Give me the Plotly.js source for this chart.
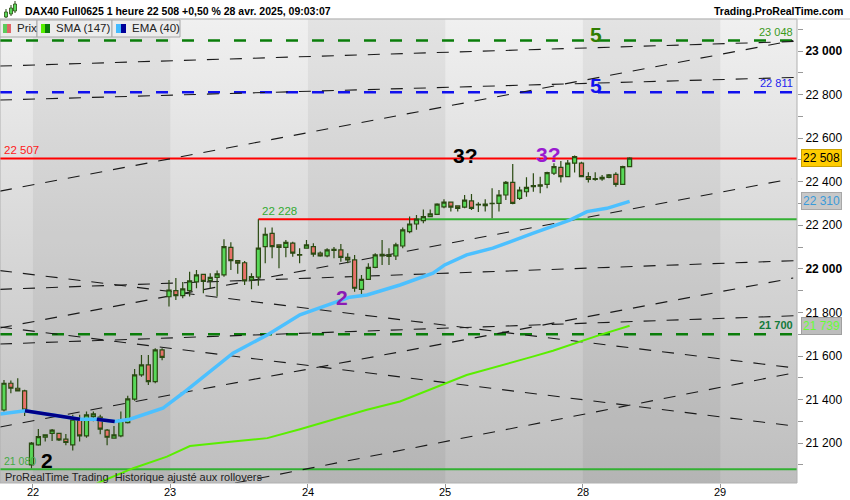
<!DOCTYPE html>
<html>
<head>
<meta charset="utf-8">
<script src="https://cdn.plot.ly/plotly-3.0.1.min.js"></script>
<style>
  html, body { margin: 0; padding: 0; background: #fff; }
  #chart { width: 850px; height: 500px; }
</style>
</head>
<body>
<div id="chart"></div>
<script>
// DAX40 Full0625, 1 hour bars (index 0 = last bars of 17 Apr, day 22 starts at bar 4)
const open  = [21352,21475,21452,21440,21100,21192,21227,21245,21245,21218,21192,21310,21233,21322,21319,21260,21223,21233,21294,21402,21513,21559,21482,21628,
               21872,21900,21877,21900,21940,21975,21946,21961,21972,22099,22038,22028,21949,21962,22102,22163,22110,22099,22118,22066,
               22095,22102,22072,22060,22085,22087,22053,22041,21906,21952,22007,22067,22064,22059,22105,22171,22206,22221,22240,22250,
               22285,22306,22289,22283,22312,22296,22290,22299,22301,22339,22397,22324,22354,22377,22386,22388,22439,22466,22423,22485,
               22485,22423,22414,22420,22420,22434,22388,22469];
const high  = [21490,21487,21498,21445,21205,21265,21238,21265,21248,21242,21330,21330,21345,21345,21330,21265,21279,21345,21417,21540,21605,21605,21636,21636,
               21949,21958,21940,21987,21995,21977,21980,21992,22136,22122,22038,22036,21980,22228,22190,22190,22110,22133,22125,22095,
               22133,22118,22080,22095,22100,22114,22072,22064,21972,22026,22072,22133,22095,22120,22190,22240,22247,22273,22273,22301,
               22320,22306,22289,22339,22344,22306,22320,22370,22362,22403,22481,22377,22420,22439,22423,22446,22485,22495,22500,22520,
               22492,22443,22443,22431,22436,22443,22473,22512];
const low   = [21345,21429,21440,21325,21085,21188,21207,21210,21210,21190,21166,21207,21225,21300,21241,21190,21220,21227,21290,21395,21505,21467,21475,21580,
               21827,21857,21865,21873,21911,21888,21910,21873,21964,21995,21977,21926,21906,21922,22026,22049,22003,22053,22056,22026,
               22095,22056,22056,22053,22049,22033,22026,21895,21880,21949,22003,22018,22018,22041,22095,22163,22179,22209,22240,22247,
               22278,22263,22263,22278,22270,22261,22263,22232,22263,22316,22297,22316,22331,22354,22347,22370,22431,22396,22420,22442,
               22420,22396,22405,22405,22416,22377,22385,22466];
const close = [21475,21452,21440,21352,21200,21230,21238,21260,21215,21203,21310,21233,21330,21334,21264,21227,21238,21307,21403,21513,21559,21482,21628,21594,
               21903,21877,21908,21945,21972,21943,21961,21977,22102,22038,22026,21945,21964,22095,22159,22102,22099,22122,22072,22063,
               22110,22068,22060,22087,22090,22053,22041,21911,21952,22007,22064,22059,22057,22110,22179,22206,22228,22240,22252,22297,
               22306,22283,22278,22316,22278,22294,22297,22301,22339,22397,22301,22362,22374,22382,22380,22442,22469,22423,22485,22515,
               22423,22411,22411,22413,22431,22388,22469,22508];

// EMA (40) and SMA (147), read at bar positions
const emaX = [-0.58,3.05,11.05,13.5,16.1,18.3,23.1,26,33.3,35.8,38.3,43.05,47.9,50.3,52.8,57.6,62.4,64.1,67.3,71.1,76.9,82.3,84.8,87.7,91];
const emaY = [21334,21349,21310,21310,21299,21310,21360,21429,21613,21655,21697,21789,21842,21870,21880,21926,21980,22018,22064,22095,22163,22224,22263,22278,22310];
const emaDownRuns = [[1, 2], [3, 4]];
const smaX = [13.5,18.8,23.7,27.05,33.3,38.3,43.05,47.9,52.8,57.6,67.3,76.9,79.85,86.7,91];
const smaY = [21015,21085,21138,21187,21207,21223,21264,21307,21353,21391,21513,21597,21624,21697,21739];

// day separators (bar index) and labels
const dayTicks  = [4.2, 24.2, 44.2, 64.2, 84.2, 104.2];
const dayLabels = ['22', '23', '24', '25', '28', '29'];

// price axis
const yTickVals = [21100,21200,21300,21400,21500,21600,21700,21800,21900,22000,22100,22200,22300,22400,22500,22600,22700,22800,22900,23000,23100];
const yTickText = ['','21 200','','21 400','','21 600','','21 800','','<b>22 000</b>','','22 200','','22 400','','22 600','','22 800','','<b>23 000</b>',''];

// black dashed trend lines
const trendX0 = [-0.58,-0.58,-0.58,-0.58,-0.58,-0.58,-0.58,33.6,-0.58,-0.58];
const trendP0 = [22931,22357,22775,21729,21992,21274,21733,21017,21906,21655];
const trendX1 = [115.3,114.8,115.3,114.5,115.3,114.8,115.3,114.8,115.3,115.3];
const trendP1 = [23044,23048,22879,22413,21544,21958,21277,21522,22038,21785];

// horizontal levels
const targetGreen = 23048, targetBlue = 22811, resistance = 22507, support = 21700, lowLevel = 21080;
const breakLevel = 22228, breakFrom = 37, breakTo = 60;

const X_RANGE = [-0.58, 115.35], Y_RANGE = [21017, 23147];
const PX = 797, TOP = 19, BOT = 483;
const px2x = p => p / PX;
const py2y = p => (BOT - p) / (BOT - TOP);
const fmt = v => String(v).replace(/\B(?=(\d{3})+(?!\d))/g, ' ');
const FONT = 'Liberation Sans, Arial, sans-serif';

const bars = open.map((_, i) => i);
const last = bars.length - 1;

const navyX = [], navyY = [];
emaDownRuns.forEach(([a, b]) => {
    for (let k = a; k <= b; k++) { navyX.push(emaX[k]); navyY.push(emaY[k]); }
    navyX.push(null); navyY.push(null);
});

const traces = [
    {
        type: 'candlestick', x: bars, open: open, high: high, low: low, close: close,
        increasing: { line: { color: '#2a4a12', width: 1.2 }, fillcolor: '#58d858' },
        decreasing: { line: { color: '#2a4a12', width: 1.2 }, fillcolor: '#e8726a' },
        whiskerwidth: 0, hoverinfo: 'skip'
    },
    { x: smaX, y: smaY, type: 'scatter', mode: 'lines', line: { color: '#5aee00', width: 2 }, hoverinfo: 'skip' },
    { x: emaX, y: emaY, type: 'scatter', mode: 'lines', line: { color: '#4cc0ff', width: 3.5 }, hoverinfo: 'skip' },
    { x: navyX, y: navyY, type: 'scatter', mode: 'lines', line: { color: '#000088', width: 3.5 }, hoverinfo: 'skip', connectgaps: false }
];

const shapes = [];
// alternate day shading
for (let k = 0; k + 1 < dayTicks.length; k += 2) {
    shapes.push({ type: 'rect', layer: 'below', xref: 'x', yref: 'paper', x0: dayTicks[k], x1: dayTicks[k + 1], y0: 0, y1: 1,
        fillcolor: 'rgba(0,0,0,0.05)', line: { width: 0 } });
}
// trend lines
trendX0.forEach((x0, k) => {
    shapes.push({ type: 'line', layer: 'below', xref: 'x', yref: 'y', x0: x0, y0: trendP0[k], x1: trendX1[k], y1: trendP1[k],
        line: { color: '#1a1a1a', width: 1.1, dash: '12px,11px' } });
});
const hline = (y, color, width, dash) => ({ type: 'line', layer: 'below', xref: 'paper', yref: 'y', x0: 0, x1: 1, y0: y, y1: y,
    line: { color: color, width: width, dash: dash || 'solid' } });
shapes.push(hline(targetGreen, '#0a7d0a', 2.5, '12px,14px'));
shapes.push(hline(targetBlue, '#1010ee', 2.5, '12px,14px'));
shapes.push(hline(support, '#0a7d0a', 2.5, '12px,14px'));
shapes.push(hline(resistance, '#ff0000', 2));
shapes.push(hline(lowLevel, '#33b033', 2));
shapes.push({ type: 'line', layer: 'below', xref: 'x', yref: 'y', x0: breakFrom, x1: breakTo, y0: breakLevel, y1: breakLevel, line: { color: '#ff0000', width: 2 } });
shapes.push({ type: 'line', layer: 'below', xref: 'x', yref: 'y', x0: breakTo, x1: X_RANGE[1], y0: breakLevel, y1: breakLevel, line: { color: '#33b033', width: 2 } });
// frame
shapes.push({ type: 'rect', layer: 'above', xref: 'paper', yref: 'paper', x0: 0, x1: 1, y0: 0, y1: 1, line: { color: '#b0b0b0', width: 1 } });
shapes.push({ type: 'line', layer: 'above', xref: 'paper', yref: 'paper', x0: 0, x1: 850 / PX, y0: py2y(TOP), y1: py2y(TOP), line: { color: '#c8c8c8', width: 1 } });

// legend boxes
const boxes = [[0, 37], [37, 112], [112, 180]];
boxes.forEach(([a, b]) => shapes.push({ type: 'rect', layer: 'above', xref: 'paper', yref: 'paper',
    x0: px2x(a), x1: px2x(b), y0: py2y(37), y1: py2y(20), fillcolor: '#ececec', line: { color: '#a8a8a8', width: 1 } }));
const swatches = [[3, 7, '#5ccc5c'], [7, 11, '#e06666'], [41, 45, '#55ee00'], [45, 50, '#0a7a0a'], [116, 121, '#44bbff'], [121, 126, '#000099']];
swatches.forEach(([a, b, c]) => shapes.push({ type: 'rect', layer: 'above', xref: 'paper', yref: 'paper',
    x0: px2x(a), x1: px2x(b), y0: py2y(33), y1: py2y(24), fillcolor: c, line: { width: 0 } }));

// header icon (three little candles)
const icon = [[6, 12, 17, 9, 18], [11, 8, 14, 5, 16], [15, 4, 11, 1, 13]];
icon.forEach(([cx, t, b, wt, wb]) => {
    shapes.push({ type: 'line', layer: 'above', xref: 'paper', yref: 'paper', x0: px2x(cx), x1: px2x(cx), y0: py2y(wb), y1: py2y(wt), line: { color: '#2a4a12', width: 1 } });
    shapes.push({ type: 'rect', layer: 'above', xref: 'paper', yref: 'paper', x0: px2x(cx - 1.5), x1: px2x(cx + 1.5), y0: py2y(b), y1: py2y(t), fillcolor: '#58d858', line: { color: '#2a4a12', width: 0.8 } });
});

const ann = (o) => Object.assign({ showarrow: false, xref: 'paper', yref: 'paper', xanchor: 'center', yanchor: 'middle',
    font: { family: FONT, size: 11, color: '#000' } }, o);
const annotations = [
    ann({ x: px2x(23), y: py2y(11), xanchor: 'left', text: '<b>DAX40 Full0625 1 heure 22 508 +0,50 % 28 avr. 2025, 09:03:07</b>', font: { family: FONT, size: 10.5, color: '#000' } }),
    ann({ x: px2x(845), y: py2y(11), xanchor: 'right', text: '<b>Trading.ProRealTime.com</b>', font: { family: FONT, size: 10.5, color: '#000' } }),
    ann({ x: px2x(15), y: py2y(28.5), xanchor: 'left', text: 'Prix', font: { family: FONT, size: 11.5, color: '#222' } }),
    ann({ x: px2x(54), y: py2y(28.5), xanchor: 'left', text: 'SMA (147)', font: { family: FONT, size: 11.5, color: '#222' } }),
    ann({ x: px2x(130), y: py2y(28.5), xanchor: 'left', text: 'EMA (40)', font: { family: FONT, size: 11.5, color: '#222' } }),

    ann({ x: 0.9975, xanchor: 'right', yref: 'y', y: targetGreen, yanchor: 'bottom', yshift: 1, text: fmt(targetGreen), font: { family: FONT, size: 11, color: '#3a9a1a' } }),
    ann({ x: 0.9975, xanchor: 'right', yref: 'y', y: targetBlue, yanchor: 'bottom', yshift: 1, text: fmt(targetBlue), font: { family: FONT, size: 11, color: '#2222ee' } }),
    ann({ x: 0.9975, xanchor: 'right', yref: 'y', y: support, yanchor: 'bottom', yshift: 1, text: '<b>' + fmt(support) + '</b>', font: { family: FONT, size: 11, color: '#137a3a' } }),
    ann({ x: 0.002, xanchor: 'left', yref: 'y', y: resistance, yanchor: 'bottom', yshift: 0, text: fmt(resistance), font: { family: FONT, size: 11.5, color: '#ff1a1a' } }),
    ann({ x: 0.002, xanchor: 'left', yref: 'y', y: lowLevel, yanchor: 'bottom', yshift: 0, text: fmt(lowLevel), font: { family: FONT, size: 10.5, color: '#44aa44' } }),
    ann({ xref: 'x', x: breakFrom + 0.3, xanchor: 'left', yref: 'y', y: breakLevel, yanchor: 'bottom', yshift: 0, text: fmt(breakLevel), font: { family: FONT, size: 11.5, color: '#33aa33' } }),

    ann({ x: px2x(596), y: py2y(35), text: '<b>5</b>', font: { family: FONT, size: 21, color: '#2e7d00' } }),
    ann({ x: px2x(596), y: py2y(86), text: '<b>5</b>', font: { family: FONT, size: 21, color: '#1010ee' } }),
    ann({ x: px2x(465), y: py2y(155.5), text: '<b>3?</b>', font: { family: FONT, size: 21, color: '#000' } }),
    ann({ x: px2x(548), y: py2y(154), text: '<b>3?</b>', font: { family: FONT, size: 21, color: '#9a1ad0' } }),
    ann({ x: px2x(342), y: py2y(297.5), text: '<b>2</b>', font: { family: FONT, size: 21, color: '#8a1ab5' } }),
    ann({ x: px2x(47), y: py2y(460), text: '<b>2</b>', font: { family: FONT, size: 21, color: '#000' } }),
    ann({ x: px2x(3), y: py2y(477), xanchor: 'left', text: 'ProRealTime Trading  Historique ajusté aux rollovers', font: { family: FONT, size: 11, color: '#222' } }),

    ann({ x: px2x(801), xanchor: 'left', yref: 'y', y: close[last], text: fmt(close[last]), bgcolor: '#ffcc00', bordercolor: '#c9a000', borderwidth: 1, borderpad: 1, font: { family: FONT, size: 12, color: '#000' } }),
    ann({ x: px2x(801), xanchor: 'left', yref: 'y', y: emaY[emaY.length - 1], text: fmt(emaY[emaY.length - 1]), bgcolor: '#c8c8c8', bordercolor: '#a8a8a8', borderwidth: 1, borderpad: 1, font: { family: FONT, size: 12, color: '#3a9ad9' } }),
    ann({ x: px2x(801), xanchor: 'left', yref: 'y', y: smaY[smaY.length - 1], text: fmt(smaY[smaY.length - 1]), bgcolor: '#bdbdbd', bordercolor: '#a0a0a0', borderwidth: 1, borderpad: 1, font: { family: FONT, size: 12, color: '#66ff33' } })
];
// day labels under the time axis
dayTicks.forEach((t, k) => annotations.push(ann({ xref: 'x', x: t, y: py2y(492), text: dayLabels[k], font: { family: FONT, size: 11, color: '#000' } })));

const gradSvg = "<svg xmlns='http://www.w3.org/2000/svg' width='10' height='100' preserveAspectRatio='none'>" +
    "<defs><linearGradient id='g' x1='0' y1='0' x2='0' y2='1'><stop offset='0' stop-color='#f0f0f0'/>" +
    "<stop offset='1' stop-color='#bebebe'/></linearGradient></defs><rect width='10' height='100' fill='url(#g)'/></svg>";

Plotly.newPlot('chart', traces, {
    width: 850, height: 500,
    margin: { l: 0, r: 850 - PX, t: TOP, b: 500 - BOT },
    paper_bgcolor: '#fff', plot_bgcolor: 'rgba(0,0,0,0)',
    showlegend: false,
    font: { family: FONT },
    boxgap: 0.15,
    xaxis: {
        range: X_RANGE, rangeslider: { visible: false }, tickmode: 'array', tickvals: dayTicks, ticktext: dayLabels,
        showticklabels: false, ticks: 'outside', ticklen: 4, tickcolor: '#999', showline: false, showgrid: false, zeroline: false
    },
    yaxis: {
        side: 'right', range: Y_RANGE, tickmode: 'array', tickvals: yTickVals, ticktext: yTickText,
        ticks: 'outside', ticklen: 5, tickcolor: '#999', showline: false, showgrid: false, zeroline: false,
        tickfont: { family: FONT, size: 12, color: '#000' }
    },
    images: [{ source: 'data:image/svg+xml;utf8,' + encodeURIComponent(gradSvg), xref: 'paper', yref: 'paper',
        x: 0, y: 1, sizex: 1, sizey: 1, xanchor: 'left', yanchor: 'top', sizing: 'stretch', layer: 'below' }],
    shapes: shapes,
    annotations: annotations,
    hovermode: false
}, { displayModeBar: false, staticPlot: true });
</script>
</body>
</html>
